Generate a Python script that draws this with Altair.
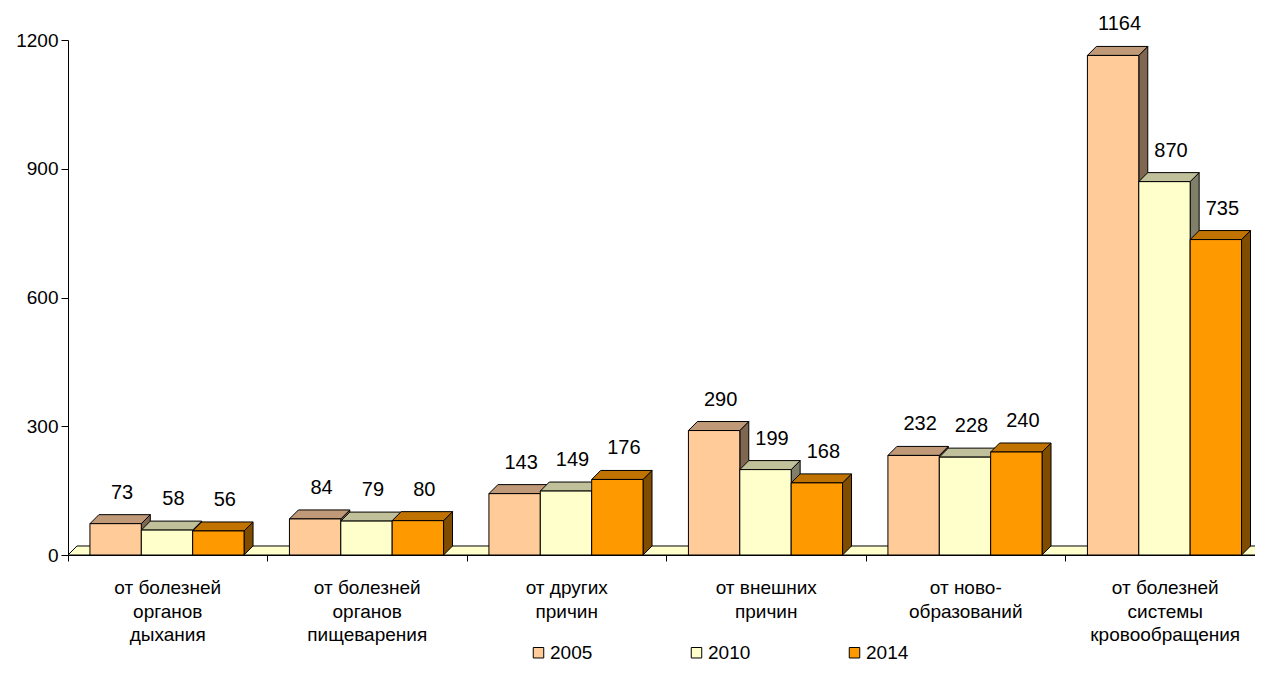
import altair as alt
import pandas as pd

categories = [
    ["от болезней", "органов", "дыхания"],
    ["от болезней", "органов", "пищеварения"],
    ["от других", "причин"],
    ["от внешних", "причин"],
    ["от ново-", "образований"],
    ["от болезней", "системы", "кровообращения"],
]
years = ["2005", "2010", "2014"]
v2005 = [73, 84, 143, 290, 232, 1164]
v2010 = [58, 79, 149, 199, 228, 870]
v2014 = [56, 80, 176, 168, 240, 735]
y_ticks = [0, 300, 600, 900, 1200]

front_colors = ["#FFCC99", "#FFFFCC", "#FF9900"]
top_colors = ["#C09A78", "#C0C09A", "#C07300"]
side_colors = ["#7F6650", "#80806A", "#7F4C00"]

# geometry in scale units (band = 1 category)
BAR_START = 0.11
BAR_W = 0.2575
DX = 0.045
DY = 21
N = len(categories)

series = [v2005, v2010, v2014]

FONT = "Liberation Sans"
W, H = 1187, 515

xscale = alt.Scale(domain=[0, 5.95], nice=False, zero=False)
yscale = alt.Scale(domain=[0, 1200], nice=False)
xaxis = alt.Axis(values=list(range(N + 1)), labels=False, tickSize=6, tickColor="black",
                 domainColor="black", grid=False, title=None, ticks=True)
yaxis = alt.Axis(values=y_ticks, tickSize=7, tickColor="black", domainColor="black",
                 grid=False, title=None, labelFontSize=19, labelColor="black",
                 labelPadding=3, labelFont=FONT, format="d")


def X(field):
    return alt.X(field, type="quantitative", scale=xscale, axis=xaxis)


def Y(field):
    return alt.Y(field, type="quantitative", scale=yscale, axis=yaxis)


# floor
floor_df = pd.DataFrame({"y": [0, DY], "left": [0, DX], "right": [N + 0.2, N + 0.2 + DX]})
floor = alt.Chart(floor_df).mark_area(orient="horizontal", fill="#FFFFCC", stroke="black",
                                      strokeWidth=1).encode(
    y=Y("y"), x=X("left"), x2="right")

layers = [floor]
label_rows = []
for j, yr in enumerate(years):
    front_rows, side_rows, top_rows = [], [], []
    for i in range(N):
        v = series[j][i]
        x0 = i + BAR_START + BAR_W * j
        x1 = x0 + BAR_W
        bid = f"{yr}-{i}"
        front_rows.append({"x0": x0, "x1": x1, "v": v, "year": yr})
        side_rows += [{"id": bid, "x": x1, "lo": 0, "hi": v},
                      {"id": bid, "x": x1 + DX, "lo": DY, "hi": v + DY}]
        top_rows += [{"id": bid, "y": v, "left": x0, "right": x1},
                     {"id": bid, "y": v + DY, "left": x0 + DX, "right": x1 + DX}]
        label_rows.append({"x": (x0 + x1) / 2 + DX / 2, "y": v + DY, "t": str(v)})
    side = alt.Chart(pd.DataFrame(side_rows)).mark_area(
        fill=side_colors[j], stroke="black", strokeWidth=1, strokeJoin="miter").encode(
        x=X("x"), y=Y("lo"), y2="hi", detail="id:N")
    top = alt.Chart(pd.DataFrame(top_rows)).mark_area(
        orient="horizontal", fill=top_colors[j], stroke="black", strokeWidth=1,
        strokeJoin="miter").encode(
        y=Y("y"), x=X("left"), x2="right", detail="id:N")
    front = alt.Chart(pd.DataFrame(front_rows)).mark_rect(
        stroke="black", strokeWidth=1, opacity=1).encode(
        x=X("x0"), x2="x1", y=Y("v"), y2=alt.datum(0),
        color=alt.Color("year:N", scale=alt.Scale(domain=years, range=front_colors),
                        legend=alt.Legend(
                            title=None, orient="none", legendX=461, legendY=603,
                            direction="horizontal", symbolType="square", symbolSize=110,
                            symbolStrokeColor="black", symbolStrokeWidth=1,
                            symbolOpacity=1, labelFontSize=19, labelFont=FONT,
                            labelColor="black", labelOffset=2, columnPadding=94)))
    layers += [side, top, front]

values = alt.Chart(pd.DataFrame(label_rows)).mark_text(
    baseline="bottom", dy=-12, dx=2, fontSize=20, font=FONT, color="black").encode(
    x=X("x"), y=Y("y"), text="t:N")

cat_df = pd.DataFrame({"x": [i + 0.5 for i in range(N)], "lines": categories})
cats = alt.Chart(cat_df).mark_text(
    baseline="top", fontSize=19, font=FONT, color="black", lineHeight=23.5).encode(
    x=X("x"), y=alt.value(H + 24), text="lines")

layers += [values, cats]

chart = alt.layer(*layers).properties(
    width=W, height=H,
    autosize=alt.AutoSizeParams(type="none"),
    padding={"left": 60, "top": 32, "right": 0, "bottom": 110},
).configure(font=FONT).configure_view(stroke=None, strokeWidth=0).configure_axis(grid=False)

chart.save("out.html", embed_options={"renderer": "svg", "actions": False})
